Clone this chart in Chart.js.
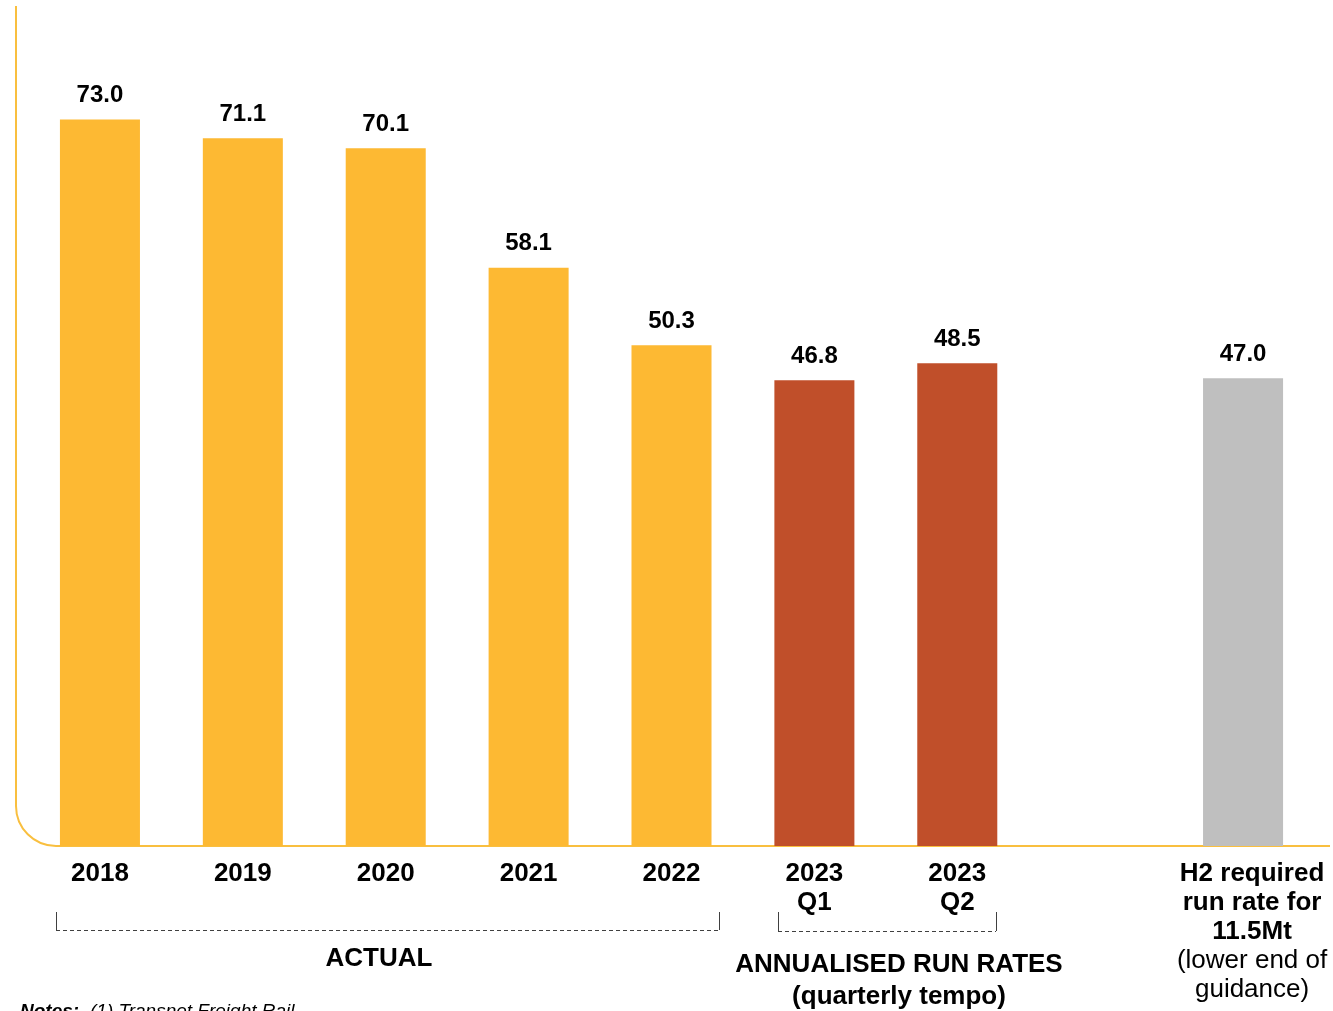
<!DOCTYPE html>
<html>
<head>
<meta charset="utf-8">
<title>Run rates</title>
<script src="https://cdn.jsdelivr.net/npm/chart.js@4.4.0/dist/chart.umd.min.js"></script>
<style>
  html, body { margin: 0; padding: 0; background: #fff; }
  #wrap { width: 1333px; height: 1011px; position: relative; }
</style>
</head>
<body>
<div id="wrap"><canvas id="runChart" width="1333" height="1011"></canvas></div>
<script>
// categories and values (Mt annualised)
const categories = ['2018', '2019', '2020', '2021', '2022', '2023 Q1', '2023 Q2', '', 'H2'];
const runRates = [73.0, 71.1, 70.1, 58.1, 50.3, 46.8, 48.5, null, 47.0];
const barColors = ['#FDB933', '#FDB933', '#FDB933', '#FDB933', '#FDB933', '#C04F2A', '#C04F2A', '#FFFFFF', '#BFBFBF'];

// label lines under each bar: [text, bold]
const tickLines = [
  [['2018', true]],
  [['2019', true]],
  [['2020', true]],
  [['2021', true]],
  [['2022', true]],
  [['2023', true], ['Q1', true]],
  [['2023', true], ['Q2', true]],
  [],
  [['H2 required', true], ['run rate for', true], ['11.5Mt', true], ['(lower end of', false], ['guidance)', false]]
];

const FONT = '"Liberation Sans", Arial, sans-serif';
const YELLOW_LINE = '#F9BF3F';

const axisPlugin = {
  id: 'roundedAxis',
  beforeDatasetsDraw(chart) {
    const ctx = chart.ctx;
    const base = chart.scales.y.getPixelForValue(0);
    const r = 40;
    ctx.save();
    ctx.strokeStyle = YELLOW_LINE;
    ctx.lineWidth = 2;
    ctx.beginPath();
    ctx.moveTo(16, 6);
    ctx.lineTo(16, base - r);
    ctx.arcTo(16, base, 16 + r, base, r);
    ctx.lineTo(1330, base);
    ctx.stroke();
    ctx.restore();
  }
};

const labelPlugin = {
  id: 'barLabels',
  afterDatasetsDraw(chart) {
    const ctx = chart.ctx;
    const meta = chart.getDatasetMeta(0);
    const x = chart.scales.x;
    ctx.save();
    ctx.fillStyle = '#000';
    ctx.textAlign = 'center';
    ctx.textBaseline = 'middle';

    // values above bars
    ctx.font = 'bold 24px ' + FONT;
    meta.data.forEach((bar, i) => {
      if (runRates[i] == null) return;
      ctx.fillText(runRates[i].toFixed(1), bar.x, bar.y - 24);
    });

    // category labels
    tickLines.forEach((lines, i) => {
      let cx = x.getPixelForValue(i);
      if (i === 8) cx += 9;
      lines.forEach((ln, j) => {
        ctx.font = (ln[1] ? 'bold ' : '') + '26px ' + FONT;
        ctx.fillText(ln[0], cx, 874 + j * 29);
      });
    });

    // group brackets
    ctx.strokeStyle = '#404040';
    ctx.lineWidth = 1;
    const bracket = (x0, x1, yTop, yBot) => {
      ctx.setLineDash([]);
      ctx.beginPath();
      ctx.moveTo(x0 + 0.5, yTop);
      ctx.lineTo(x0 + 0.5, yBot);
      ctx.moveTo(x1 + 0.5, yTop);
      ctx.lineTo(x1 + 0.5, yBot);
      ctx.stroke();
      ctx.setLineDash([4, 3]);
      ctx.beginPath();
      ctx.moveTo(x0, yBot + 0.5);
      ctx.lineTo(x1, yBot + 0.5);
      ctx.stroke();
    };
    bracket(56, 719, 912, 930);
    bracket(778, 996, 912, 931);
    ctx.setLineDash([]);

    ctx.font = 'bold 26px ' + FONT;
    ctx.fillText('ACTUAL', 379, 959);
    ctx.fillText('ANNUALISED RUN RATES', 899, 965);
    ctx.fillText('(quarterly tempo)', 899, 997);

    // notes line (runs off the bottom edge)
    ctx.textAlign = 'left';
    ctx.font = 'italic bold 19px ' + FONT;
    ctx.fillText('Notes:', 20, 1012);
    ctx.font = 'italic 19px ' + FONT;
    ctx.fillText('(1) Transnet Freight Rail', 90, 1012);
    ctx.restore();
  }
};

new Chart(document.getElementById('runChart'), {
  type: 'bar',
  data: {
    labels: categories,
    datasets: [{
      data: runRates,
      backgroundColor: barColors,
      borderWidth: 0,
      barPercentage: 0.56,
      categoryPercentage: 1.0
    }]
  },
  options: {
    responsive: false,
    animation: false,
    layout: { padding: { left: 28.5, right: 18.5, top: 0, bottom: 165 } },
    plugins: { legend: { display: false }, tooltip: { enabled: false } },
    scales: {
      x: { display: false },
      y: { display: false, min: 0, max: 85 }
    }
  },
  plugins: [axisPlugin, labelPlugin]
});
</script>
</body>
</html>
